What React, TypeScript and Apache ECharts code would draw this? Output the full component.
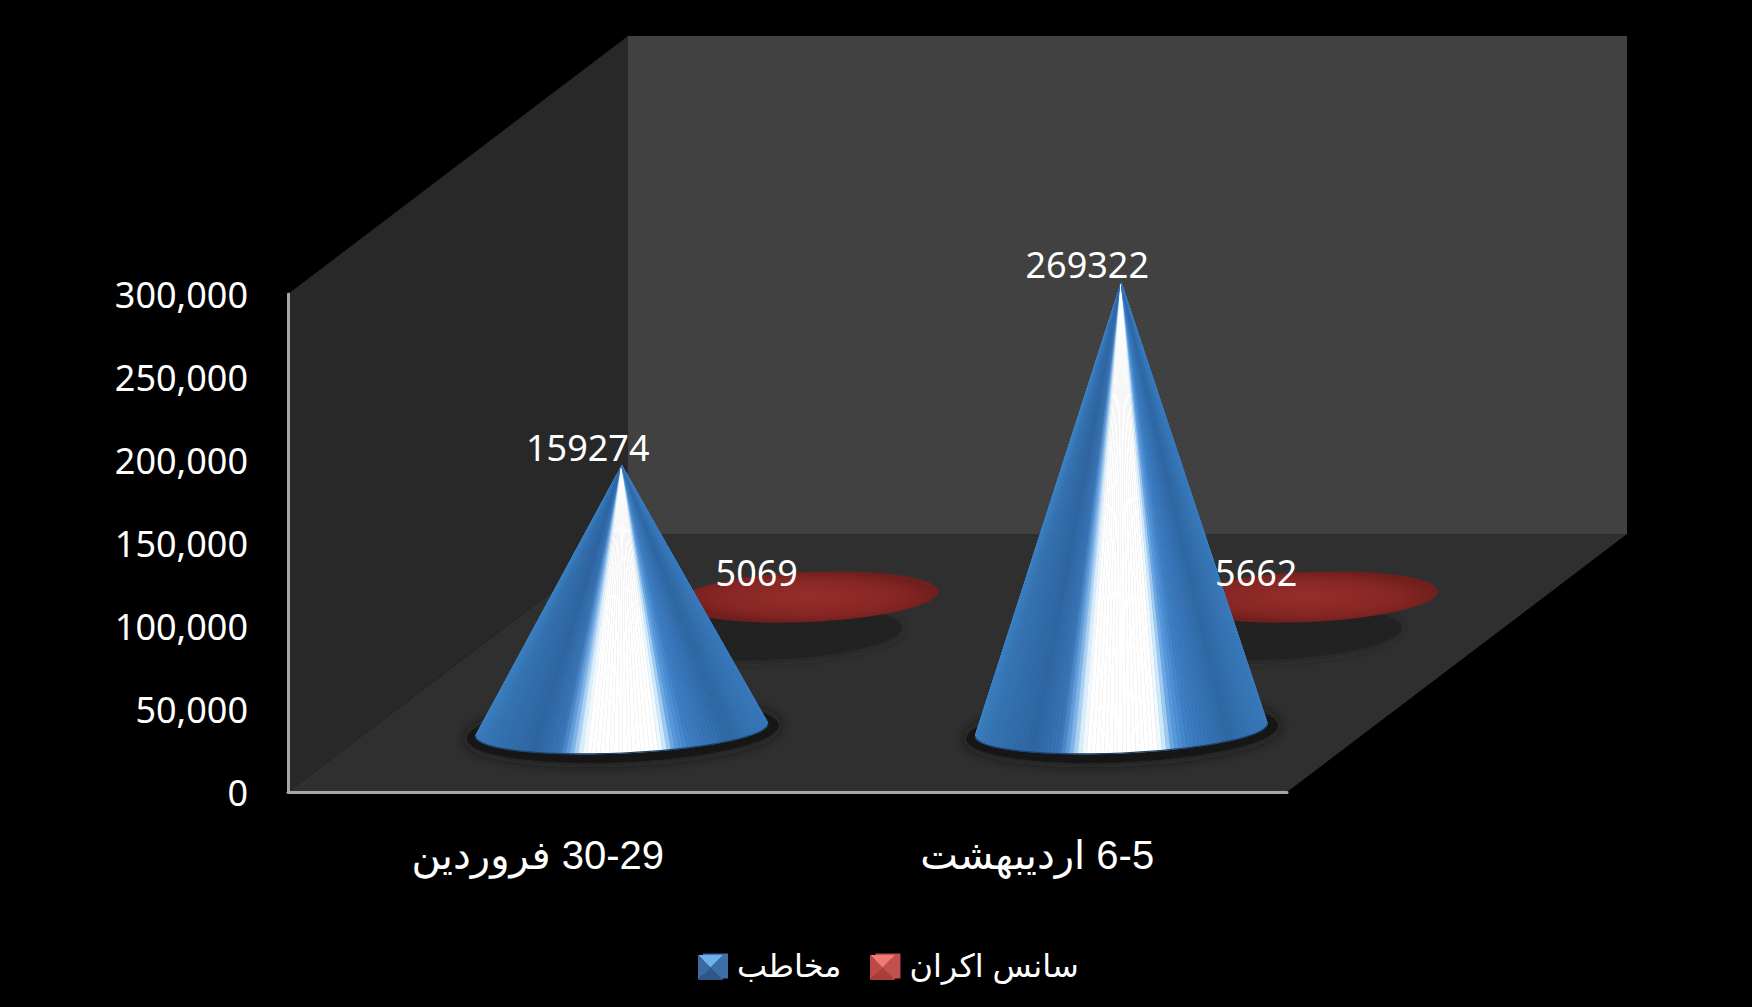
import React, { useEffect, useRef } from "react";
import * as echarts from "echarts";

const categories = ["\u202B30-29 فروردین\u202C", "\u202B6-5 اردیبهشت\u202C"];
const audienceName = "مخاطب";
const screeningName = "سانس اکران";
const audienceValues = [159274, 269322];
const screeningValues = [5069, 5662];

const W = 1752;
const H = 1007;
const LEFT = 288;
const RIGHT = 1287;
const TOP = 294;
const BOTTOM = 792;
const DX = 340;
const DY = 258;

const BLUE_STOPS: [number, number[]][] = [
  [0, [61, 130, 196]],
  [0.05, [54, 117, 181]],
  [0.2, [47, 102, 164]],
  [0.29, [58, 118, 184]],
  [0.325, [109, 168, 230]],
  [0.36, [216, 238, 252]],
  [0.385, [255, 255, 255]],
  [0.625, [255, 255, 255]],
  [0.65, [200, 230, 251]],
  [0.68, [93, 158, 226]],
  [0.73, [62, 127, 198]],
  [0.87, [47, 105, 166]],
  [1, [58, 124, 192]],
];

function shade(t: number) {
  const c = Math.max(0, Math.min(1, t));
  for (let i = 1; i < BLUE_STOPS.length; i++) {
    const [t1, c1] = BLUE_STOPS[i];
    const [t0, c0] = BLUE_STOPS[i - 1];
    if (c <= t1) {
      const k = (c - t0) / (t1 - t0);
      const m = c0.map((v, j) => Math.round(v + (c1[j] - v) * k));
      return `rgb(${m[0]},${m[1]},${m[2]})`;
    }
  }
  return "rgb(58,124,192)";
}

function ellipsePoint(cx: number, cy: number, a: number, b: number, tilt: number, th: number) {
  const u = a * Math.cos(th);
  const v = b * Math.sin(th);
  return [cx + u * Math.cos(tilt) - v * Math.sin(tilt), cy + u * Math.sin(tilt) + v * Math.cos(tilt)];
}

function ellipsePoly(cx: number, cy: number, a: number, b: number, tilt: number) {
  const pts: number[][] = [];
  for (let i = 0; i < 72; i++) pts.push(ellipsePoint(cx, cy, a, b, tilt, (i / 72) * Math.PI * 2));
  return pts;
}

const TILT = -0.044;

function renderCone(_: any, api: any) {
  const i = api.value(0);
  const base = api.coord([i, 0]);
  const top = api.coord([i, api.value(1)]);
  const band = api.size([1, 0])[0];
  const cx = base[0] + 84;
  const cy = base[1] - 62;
  const ax = top[0] + 84;
  const ay = top[1] - 62;
  const a = band * 0.2925;
  const b = 23;
  const children: any[] = [
    {
      type: "polygon",
      shape: { points: ellipsePoly(cx + 1, cy + 2, a + 10, b + 7, TILT) },
      style: { fill: "#141414", shadowBlur: 14, shadowColor: "#141414" },
    },
  ];
  const n = 110;
  const from = -0.12;
  const to = Math.PI + 0.12;
  for (let k = 0; k < n; k++) {
    const p0 = ellipsePoint(cx, cy, a, b, TILT, to + ((from - to) * k) / n);
    const p1 = ellipsePoint(cx, cy, a, b, TILT, to + ((from - to) * (k + 1)) / n);
    const col = shade(((p0[0] + p1[0]) / 2 - (cx - a)) / (2 * a));
    children.push({
      type: "polygon",
      shape: { points: [[ax, ay], p0, p1] },
      style: { fill: col, stroke: col, lineWidth: 0.6 },
    });
  }
  const rim: number[][] = [];
  for (let k = 0; k <= 60; k++) rim.push(ellipsePoint(cx, cy, a, b, TILT, (k / 60) * Math.PI));
  children.push({
    type: "polyline",
    shape: { points: rim },
    style: { fill: "none", stroke: "#1e4673", lineWidth: 1.2 },
  });
  return { type: "group", children };
}

function renderDisc(_: any, api: any) {
  const i = api.value(0);
  const base = api.coord([i, 0]);
  const band = api.size([1, 0])[0];
  const cx = base[0] + 270;
  const cy = base[1] - 195;
  const a = band * 0.262;
  const b = 25;
  return {
    type: "group",
    children: [
      {
        type: "polygon",
        shape: { points: ellipsePoly(cx - 37, cy + 36, a, b + 2, TILT) },
        style: { fill: "#222222", shadowBlur: 10, shadowColor: "#222222" },
      },
      {
        type: "polygon",
        shape: { points: ellipsePoly(cx, cy, a, b, TILT) },
        style: {
          fill: {
            type: "radial",
            x: 0.5,
            y: 0.5,
            r: 0.5,
            colorStops: [
              { offset: 0, color: "#952e2c" },
              { offset: 0.7, color: "#862624" },
              { offset: 1, color: "#701f1c" },
            ],
          },
        },
      },
    ],
  };
}

function renderLabel(_: any, api: any) {
  const i = api.value(0);
  const v = api.value(1);
  const isAudience = api.value(2) === 0;
  const p = api.coord([i, isAudience ? v : 0]);
  return {
    type: "text",
    style: {
      text: String(v),
      x: p[0] + (isAudience ? 50 : 219),
      y: isAudience ? p[1] - 80 : p[1] - 220,
      fill: "#ffffff",
      fontFamily: "'Noto Sans'",
      fontSize: 36,
      align: "center",
      verticalAlign: "middle",
    },
  };
}

const wall = (points: number[][], fill: string) => ({
  type: "polygon",
  z: -10,
  shape: { points },
  style: { fill },
});

const bevel = (x: number, y: number, s: number, cols: string[]) => {
  const m = s * 0.5;
  const c = [x + m, y + m];
  const tl = [x, y];
  const tr = [x + s, y];
  const br = [x + s, y + s];
  const bl = [x, y + s];
  return [
    [tl, tr, c],
    [tr, br, c],
    [br, bl, c],
    [bl, tl, c],
  ].map((points, i) => ({
    type: "polygon",
    z: 20,
    silent: true,
    shape: { points },
    style: { fill: cols[i] },
  }));
};

export default function App() {
  const ref = useRef<HTMLDivElement>(null);
  useEffect(() => {
    document.body.style.margin = "0";
    document.body.style.background = "#000";
    document.body.style.overflow = "hidden";
    const chart = echarts.init(ref.current!, undefined, { renderer: "svg" });
    chart.setOption({
      animation: false,
      backgroundColor: "#000000",
      grid: { left: LEFT, top: TOP, width: RIGHT - LEFT, height: BOTTOM - TOP },
      legend: {
        left: 698,
        top: 945,
        itemWidth: 25,
        itemHeight: 25,
        itemGap: 34,
        textStyle: {
          color: "#ffffff",
          fontSize: 32,
          fontFamily: "'Liberation Sans','DejaVu Sans'",
          padding: [0, 0, 0, 4],
        },
        data: [
          { name: audienceName, icon: "rect", itemStyle: { color: "#3f6fa8" } },
          { name: screeningName, icon: "rect", itemStyle: { color: "#c0504d" } },
        ],
      },
      xAxis: {
        type: "category",
        data: categories,
        axisLine: { show: true, lineStyle: { color: "#a6a6a6", width: 3 } },
        axisTick: { show: false },
        axisLabel: {
          color: "#ffffff",
          fontSize: 40,
          fontFamily: "'Liberation Sans','DejaVu Sans'",
          margin: 43,
        },
      },
      yAxis: {
        type: "value",
        min: 0,
        max: 300000,
        interval: 50000,
        axisLine: { show: true, lineStyle: { color: "#a6a6a6", width: 3 } },
        axisTick: { show: false },
        splitLine: { show: false },
        axisLabel: { color: "#ffffff", fontSize: 36, fontFamily: "'Noto Sans'", margin: 40 },
      },
      graphic: {
        elements: [
          wall([[LEFT + DX, TOP - DY], [RIGHT + DX, TOP - DY], [RIGHT + DX, BOTTOM - DY], [LEFT + DX, BOTTOM - DY]], "#414141"),
          wall([[LEFT, TOP], [LEFT + DX, TOP - DY], [LEFT + DX, BOTTOM - DY], [LEFT, BOTTOM]], "#282828"),
          wall([[LEFT, BOTTOM], [LEFT + DX, BOTTOM - DY], [RIGHT + DX, BOTTOM - DY], [RIGHT, BOTTOM]], "#2f2f2f"),
          ...bevel(698, 955, 25, ["#6fb0ee", "#3d6ea8", "#2f5688", "#3a689f"]),
          ...bevel(870, 955, 25, ["#ef7a76", "#c4504c", "#a83e3b", "#bc4946"]),
        ],
      },
      series: [
        {
          name: screeningName,
          type: "custom",
          z: 2,
          renderItem: renderDisc,
          encode: { x: 0, y: 1 },
          itemStyle: { color: "#c0504d" },
          data: screeningValues.map((v, i) => [i, v]),
        },
        {
          name: audienceName,
          type: "custom",
          z: 3,
          renderItem: renderCone,
          encode: { x: 0, y: 1 },
          itemStyle: { color: "#3f6fa8" },
          data: audienceValues.map((v, i) => [i, v]),
        },
        {
          name: "labels",
          type: "custom",
          z: 5,
          renderItem: renderLabel,
          encode: { x: 0, y: 1 },
          data: [
            ...audienceValues.map((v, i) => [i, v, 0]),
            ...screeningValues.map((v, i) => [i, v, 1]),
          ],
        },
      ],
    });
    return () => chart.dispose();
  }, []);
  return <div ref={ref} style={{ width: W, height: H }} />;
}
